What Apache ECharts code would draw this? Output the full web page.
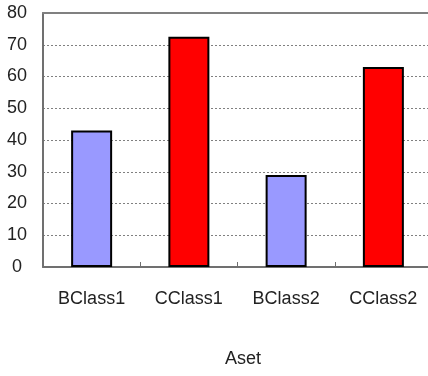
<!DOCTYPE html>
<html>
<head>
<meta charset="utf-8">
<script src="https://cdn.jsdelivr.net/npm/echarts@6/dist/echarts.min.js"></script>
<style>
  html, body { margin: 0; padding: 0; background: #ffffff; }
  #chart { width: 428px; height: 376px; }
</style>
</head>
<body>
<div id="chart"></div>
<script>
// Categories and values for the "Aset" bar chart
const categories = ['BClass1', 'CClass1', 'BClass2', 'CClass2'];
const values = [43, 72.5, 29, 63];
const barColors = ['#9999ff', '#ff0000', '#9999ff', '#ff0000'];
const yTicks = { min: 0, max: 80, interval: 10 };
const axisName = 'Aset';

const chart = echarts.init(document.getElementById('chart'), null, { renderer: 'canvas' });

const font = { fontFamily: 'Liberation Sans', fontSize: 18, color: '#222222' };

chart.setOption({
  animation: false,
  backgroundColor: '#ffffff',
  // plot area runs slightly past the right edge of the canvas
  grid: { left: 43, right: -4, top: 13, bottom: 109, containLabel: false, outerBoundsMode: 'none' },
  xAxis: [{
    type: 'category',
    data: categories,
    boundaryGap: true,
    name: axisName,
    nameLocation: 'middle',
    nameGap: 83,
    nameTextStyle: Object.assign({}, font, { padding: [0, 0, 0, 11] }),
    axisLine: { lineStyle: { color: '#707070', width: 2 } },
    axisTick: { show: true, inside: true, length: 5, lineStyle: { color: '#707070', width: 1 } },
    axisLabel: Object.assign({}, font, { margin: 23 }),
    splitLine: { show: false }
  }, {
    // top frame line of the plot area
    type: 'category',
    position: 'top',
    data: categories,
    axisLine: { lineStyle: { color: '#808080', width: 2 } },
    axisTick: { show: false },
    axisLabel: { show: false },
    splitLine: { show: false }
  }],
  yAxis: {
    type: 'value',
    min: yTicks.min,
    max: yTicks.max,
    interval: yTicks.interval,
    axisLine: { show: true, lineStyle: { color: '#707070', width: 2 } },
    axisTick: { show: false },
    axisLabel: Object.assign({}, font, { align: 'center', margin: 26 }),
    splitLine: { show: true, lineStyle: { color: '#808080', width: 1, type: [2, 2] } }
  },
  series: [{
    type: 'bar',
    barWidth: 41,
    data: values.map((v, i) => ({
      value: v,
      itemStyle: { color: barColors[i], borderColor: '#000000', borderWidth: 2 }
    }))
  }]
});
</script>
</body>
</html>
